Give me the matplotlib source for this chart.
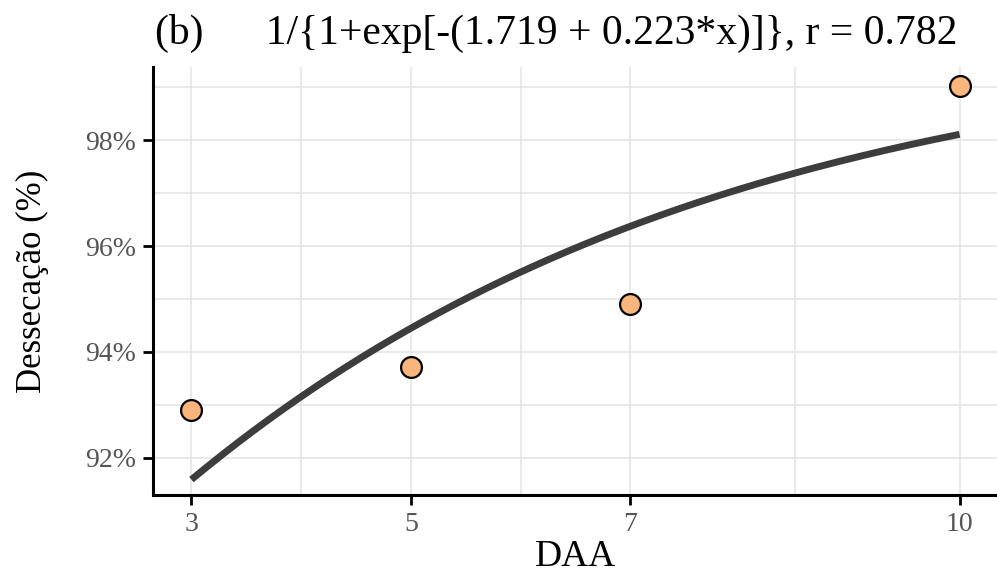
import matplotlib.pyplot as plt
import numpy as np

# observed points
daa = [3, 5, 7, 10]
dessecacao = [92.9, 93.72, 94.9, 99.03]

# fitted logistic model shown in the title
b0 = 1.719
b1 = 0.223
r_value = 0.782

x_ticks = [3, 5, 7, 10]
x_minor = [4, 6, 8.5]
y_ticks = [92, 94, 96, 98]
y_minor = [93, 95, 97, 99]

plt.rcParams['font.family'] = ['Liberation Serif', 'DejaVu Serif']

fig = plt.figure(figsize=(9.97, 5.72), dpi=100)
ax = fig.add_axes([153 / 997, 1 - 495 / 572, 845 / 997, 428 / 572])

x_fit = np.linspace(min(daa), max(daa), 200)
y_fit = 100 / (1 + np.exp(-(b0 + b1 * x_fit)))

ax.plot(x_fit, y_fit, color="#3d3d3d", lw=5, solid_capstyle='butt', zorder=3)
ax.plot(daa, dessecacao, linestyle='none', marker='o', markersize=15,
        markerfacecolor="#f9b67c", markeredgecolor="black", markeredgewidth=1.6, zorder=4)

ax.set_xlim(2.65, 10.35)
ax.set_ylim(91.3, 99.38)
ax.set_xticks(x_ticks)
ax.set_xticks(x_minor, minor=True)
ax.set_yticks(y_ticks)
ax.set_yticks(y_minor, minor=True)
ax.set_yticklabels([f"{v}%" for v in y_ticks])
ax.grid(True, which='both', color="#e3e3e3", lw=1.1, zorder=0)
ax.set_axisbelow(True)

for side in ['top', 'right']:
    ax.spines[side].set_visible(False)
for side in ['left', 'bottom']:
    ax.spines[side].set_linewidth(2.2)
    ax.spines[side].set_color("black")

ax.tick_params(which='major', length=7, width=2, color="black",
               labelsize=20, labelcolor="#555555", pad=5)
ax.tick_params(which='minor', length=0)

ax.set_xlabel("DAA", fontsize=27, labelpad=2)
ax.set_ylabel("Dessecação (%)", fontsize=25, labelpad=26)

title = f"(b)      1/{{1+exp[-({b0} + {b1}*x)]}}, r = {r_value}"
fig.text(155 / 997, 1 - 14 / 572, title, fontsize=30, ha='left', va='top')

fig.savefig("out.png", dpi=100)
